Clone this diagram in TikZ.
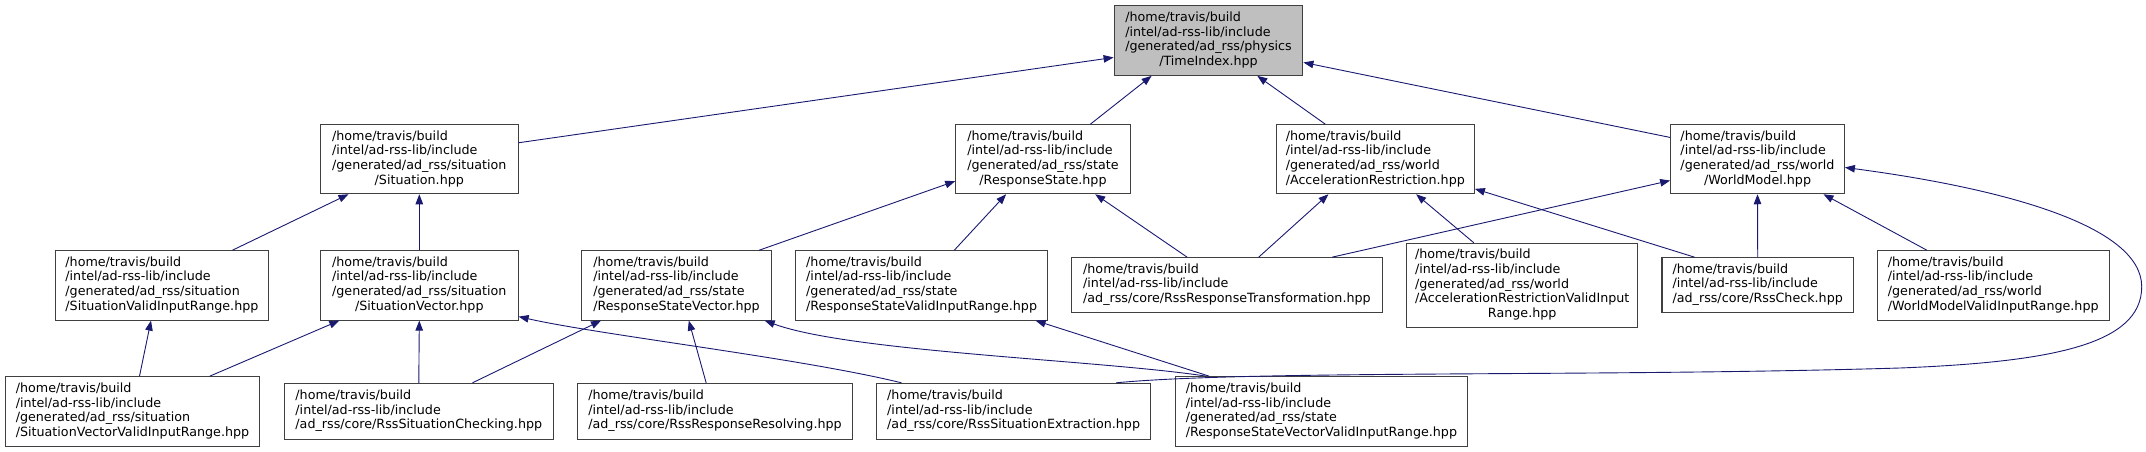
\documentclass[tikz,border=0pt]{standalone}
\usepackage{fontspec}
\setmainfont{DejaVu Sans}
\usetikzlibrary{arrows.meta}
\definecolor{edgecol}{HTML}{191970}
\definecolor{boxline}{HTML}{404040}
\definecolor{rootfill}{HTML}{BFBFBF}
\newcommand{\flines}[2]{\begin{tabular}{@{}l@{}}#1\\\multicolumn{1}{@{}c@{}}{#2}\end{tabular}}
\newcommand{\HB}{/home/travis/build}
\newcommand{\IL}{/intel/ad-rss-lib/include}
\begin{document}
\begin{tikzpicture}[x=1pt,y=-1pt,
  filebox/.style={draw=boxline, line width=1.1pt, fill=white, inner sep=0pt,
    font=\fontsize{12.7}{14.7}\selectfont, anchor=center},
  edge/.style={draw=edgecol, line width=0.9pt, {Triangle[length=10pt,width=7.5pt]}-}]
\useasboundingbox (0,0) rectangle (2146,452);

% row 0
\node[filebox, fill=rootfill, minimum width=188.7pt, minimum height=69.6pt] (ti) at (1208.5,40.5)
  {\flines{\HB\\\IL\\/generated/ad\_rss/physics}{/TimeIndex.hpp}};
% row 1
\node[filebox, minimum width=197.5pt, minimum height=69pt] (sit) at (419.3,159.2)
  {\flines{\HB\\\IL\\/generated/ad\_rss/situation}{/Situation.hpp}};
\node[filebox, minimum width=174.5pt, minimum height=69pt] (rs) at (1043,159.2)
  {\flines{\HB\\\IL\\/generated/ad\_rss/state}{/ResponseState.hpp}};
\node[filebox, minimum width=198pt, minimum height=69pt] (ar) at (1375.3,159.2)
  {\flines{\HB\\\IL\\/generated/ad\_rss/world}{/AccelerationRestriction.hpp}};
\node[filebox, minimum width=173.6pt, minimum height=69pt] (wm) at (1757.5,159.2)
  {\flines{\HB\\\IL\\/generated/ad\_rss/world}{/WorldModel.hpp}};
% row 2
\node[filebox, minimum width=213.5pt, minimum height=69.3pt] (svir) at (161.9,285.4)
  {\flines{\HB\\\IL\\/generated/ad\_rss/situation}{/SituationValidInputRange.hpp}};
\node[filebox, minimum width=197.5pt, minimum height=69.3pt] (sv) at (419.3,285.4)
  {\flines{\HB\\\IL\\/generated/ad\_rss/situation}{/SituationVector.hpp}};
\node[filebox, minimum width=190.3pt, minimum height=69.3pt] (rsv) at (676.5,285.4)
  {\flines{\HB\\\IL\\/generated/ad\_rss/state}{/ResponseStateVector.hpp}};
\node[filebox, minimum width=252.1pt, minimum height=69.3pt] (rsvir) at (921.6,285.4)
  {\flines{\HB\\\IL\\/generated/ad\_rss/state}{/ResponseStateValidInputRange.hpp}};
\node[filebox, minimum width=310.9pt, minimum height=54.6pt] (rrt) at (1226.9,285)
  {\flines{\HB\\\IL}{/ad\_rss/core/RssResponseTransformation.hpp}};
\node[filebox, minimum width=230.9pt, minimum height=84pt] (arvir) at (1522.2,285.3)
  {\flines{\HB\\\IL\\/generated/ad\_rss/world\\/AccelerationRestrictionValidInput}{Range.hpp}};
\node[filebox, minimum width=191.4pt, minimum height=54.6pt] (rc) at (1757.7,285)
  {\flines{\HB\\\IL}{/ad\_rss/core/RssCheck.hpp}};
\node[filebox, minimum width=231.7pt, minimum height=69.3pt] (wmvir) at (1993.2,285.4)
  {\flines{\HB\\\IL\\/generated/ad\_rss/world}{/WorldModelValidInputRange.hpp}};
% row 3
\node[filebox, minimum width=253.9pt, minimum height=70pt] (svvir) at (132.5,411.7)
  {\flines{\HB\\\IL\\/generated/ad\_rss/situation}{/SituationVectorValidInputRange.hpp}};
\node[filebox, minimum width=269.1pt, minimum height=55.7pt] (rsc) at (418.8,411.2)
  {\flines{\HB\\\IL}{/ad\_rss/core/RssSituationChecking.hpp}};
\node[filebox, minimum width=274.8pt, minimum height=55.7pt] (rrr) at (715,411.2)
  {\flines{\HB\\\IL}{/ad\_rss/core/RssResponseResolving.hpp}};
\node[filebox, minimum width=273.6pt, minimum height=55.7pt] (rse) at (1013.6,411.2)
  {\flines{\HB\\\IL}{/ad\_rss/core/RssSituationExtraction.hpp}};
\node[filebox, minimum width=292.7pt, minimum height=70pt] (rsvvir) at (1321.4,411.7)
  {\flines{\HB\\\IL\\/generated/ad\_rss/state}{/ResponseStateVectorValidInputRange.hpp}};

% edges (arrow at the included file)
\draw[edge] ([shift={(0,52.3)}]ti.north west) -- ([shift={(0,18.6)}]sit.north east);
\draw[edge] ([shift={(38,0)}]ti.south west) -- ([shift={(135.2,0)}]rs.north west);
\draw[edge] ([shift={(143.7,0)}]ti.south west) -- ([shift={(49.5,0)}]ar.north west);
\draw[edge] ([shift={(0,57.3)}]ti.north east) -- ([shift={(0,13.3)}]wm.north west);
\draw[edge] ([shift={(28.5,0)}]sit.south west) -- ([shift={(177.9,0)}]svir.north west);
\draw[edge] (sit.south) -- (sv.north);
\draw[edge] ([shift={(0,57)}]rs.north west) -- ([shift={(178.4,0)}]rsv.north west);
\draw[edge] ([shift={(50.9,0)}]rs.south west) -- ([shift={(159.3,0)}]rsvir.north west);
\draw[edge] ([shift={(140,0)}]rs.south west) -- ([shift={(116.2,0)}]rrt.north west);
\draw[edge] ([shift={(52.7,0)}]ar.south west) -- ([shift={(187.8,0)}]rrt.north west);
\draw[edge] ([shift={(140.4,0)}]ar.south west) -- ([shift={(67.6,0)}]arvir.north west);
\draw[edge] ([shift={(0,-5.4)}]ar.south east) -- ([shift={(33,0)}]rc.north west);
\draw[edge] ([shift={(0,-13.7)}]wm.south west) -- ([shift={(261.3,0)}]rrt.north west);
\draw[edge] (wm.south) -- (rc.north);
\draw[edge] ([shift={(153.3,0)}]wm.south west) -- ([shift={(50,0)}]wmvir.north west);
\draw[edge] ([shift={(0,43.3)}]wm.north east) .. controls (2000,188) and (2141.7,225) .. (2141.7,286.7)
  .. controls (2141.7,345) and (2050,362) .. (1900,368)
  .. controls (1600,377) and (1250,370) .. ([shift={(239.9,0)}]rse.north west);
\draw[edge] ([shift={(96.4,0)}]svir.south west) -- ([shift={(134.5,0)}]svvir.north west);
\draw[edge] ([shift={(19.3,0)}]sv.south west) -- ([shift={(204.8,0)}]svvir.north west);
\draw[edge] (sv.south) -- (rsc.north);
\draw[edge] ([shift={(0,-4)}]sv.south east) .. controls (600,335) and (800,358) .. ([shift={(25.2,0)}]rse.north west);
\draw[edge] ([shift={(20.2,0)}]rsv.south west) -- ([shift={(188.8,0)}]rsc.north west);
\draw[edge] ([shift={(108,0)}]rsv.south west) -- ([shift={(129.1,0)}]rrr.north west);
\draw[edge] ([shift={(-7.5,0)}]rsv.south east) .. controls (850,352) and (1100,360) .. ([shift={(31.7,0)}]rsvvir.north west);
\draw[edge] ([shift={(-12.6,0)}]rsvir.south east) -- ([shift={(34.6,0)}]rsvvir.north west);
\end{tikzpicture}
\end{document}
